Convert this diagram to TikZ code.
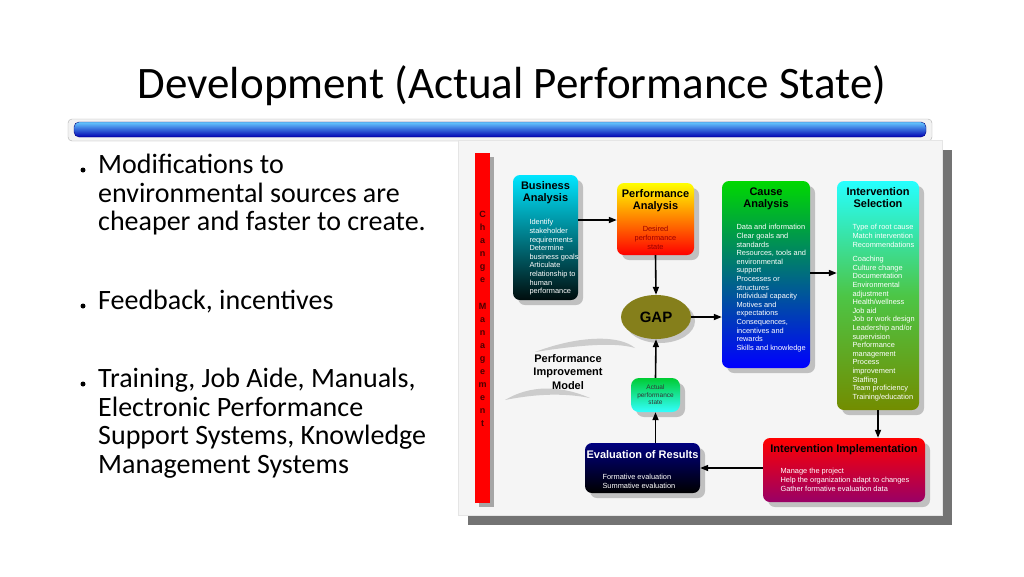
\documentclass[tikz,border=0pt]{standalone}
\usepackage{fontspec}
\setmainfont{Carlito}
\newfontfamily\arialf{Liberation Sans}
\usetikzlibrary{arrows.meta,shadows,shapes.geometric}
\begin{document}
\begin{tikzpicture}[x=1pt,y=-1pt,
  box/.style={rounded corners=7pt,inner sep=0pt,drop shadow={shadow xshift=5pt,shadow yshift=-5pt,fill=black!45}},
  ttl/.style={font=\arialf\bfseries\fontsize{11}{12.5}\selectfont,align=center},
  bod/.style={font=\arialf\fontsize{7.4}{8.6}\selectfont,align=left,white},
  arr/.style={-{Triangle[length=8pt,width=6pt]},line width=1.6pt},
  bul/.style={font=\fontsize{28}{28.5}\selectfont,align=left,anchor=north west,inner sep=0pt}]
\useasboundingbox (0,0) rectangle (1024,576);
\fill[white] (0,0) rectangle (1024,576);
\node (title) at (512,86) {\fontsize{45}{48}\selectfont Development (Actual Performance State)};
\node[draw=gray!60,fill=gray!10,rounded corners=4pt,minimum width=864pt,minimum height=22pt] (barout) at (500,130) {};
\shade[top color=blue!35!cyan!60,bottom color=blue!70!black,rounded corners=5pt,draw=blue!50!black] (74,122) rectangle (926,137);
% bullets
\node[bul] (b1) at (98,154) {Modifications to\\environmental sources are\\cheaper and faster to create.};
\node[bul] (b2) at (98,290) {Feedback, incentives};
\node[bul] (b3) at (98,368) {Training, Job Aide, Manuals,\\Electronic Performance\\Support Systems, Knowledge\\Management Systems};
\foreach \y in {170,306,384} \fill (83,\y) circle (2.5pt);
% panel
\fill[black!55] (468,150) rectangle (952,525);
\fill[gray!8] (458,140) rectangle (942,515);
\draw[gray!20] (458,140) rectangle (942,515);
% change management bar
\fill[black!35] (479,157) rectangle (494,507);
\fill[red] (475,153) rectangle (490,503);
\node[font=\arialf\bfseries\fontsize{9}{13}\selectfont,align=center,text=black!70!red,anchor=north] (cm) at (482.5,208) {C\\h\\a\\n\\g\\e\\[14pt]M\\a\\n\\a\\g\\e\\m\\e\\n\\t};
% boxes
\node[box,top color=cyan!90!blue,bottom color=black!90!teal,minimum width=65pt,minimum height=125pt] (ba) at (545.5,237.5) {};
\node[ttl,anchor=north] at (ba.north) [yshift=-3pt] {Business\\Analysis};
\node[bod,anchor=north west] at (526,216) {Identify\\stakeholder\\requirements\\Determine\\business goals\\Articulate\\relationship to\\human\\performance};
\node[box,top color=yellow,bottom color=red,minimum width=77pt,minimum height=72pt] (pa) at (655.5,219) {};
\node[ttl,anchor=north] at (pa.north) [yshift=-3pt] {Performance\\Analysis};
\node[bod,align=center,text=red!60!black,anchor=north] at (655.5,223) {Desired\\performance\\state};
\node[box,top color=green!85!black,bottom color=blue,minimum width=88pt,minimum height=187pt] (ca) at (766,274.5) {};
\node[ttl,anchor=north] at (ca.north) [yshift=-3pt] {Cause\\Analysis};
\node[bod,anchor=north west] at (733,221) {Data and information\\Clear goals and\\standards\\Resources, tools and\\environmental\\support\\Processes or\\structures\\Individual capacity\\Motives and\\expectations\\Consequences,\\incentives and\\rewards\\Skills and knowledge};
\node[box,top color=cyan!85!white,bottom color=olive!90!green,minimum width=82pt,minimum height=229pt] (is) at (878,295.5) {};
\node[ttl,anchor=north] at (is.north) [yshift=-3pt] {Intervention\\Selection};
\node[bod,anchor=north west] at (849,221) {Type of root cause\\Match intervention\\Recommendations\\[6pt]Coaching\\Culture change\\Documentation\\Environmental\\adjustment\\Health/wellness\\Job aid\\Job or work design\\Leadership and/or\\supervision\\Performance\\management\\Process\\improvement\\Staffing\\Team proficiency\\Training/education};
\node[ellipse,fill=olive!85!yellow!80!black,minimum width=70pt,minimum height=44pt,drop shadow={shadow xshift=4pt,shadow yshift=-4pt,fill=black!40},font=\arialf\bfseries\fontsize{15}{16}\selectfont,inner sep=0pt] (gap) at (656,317) {GAP};
\node[box,rounded corners=8pt,top color=green!60!teal,bottom color=cyan!80,minimum width=49pt,minimum height=34pt,bod,align=center,text=black!80,font=\arialf\fontsize{6.5}{7.5}\selectfont] (aps) at (655.5,395) {Actual\\performance\\state};
\node[box,top color=blue!50!black,bottom color=black,minimum width=115pt,minimum height=50pt] (ev) at (642.5,468) {};
\node[ttl,white,anchor=north] at (ev.north) [yshift=-4pt] {Evaluation of Results};
\node[bod,anchor=north west] at (599,471) {Formative evaluation\\Summative evaluation};
\node[box,top color=red,bottom color=violet!80!red,minimum width=162pt,minimum height=64pt] (ii) at (844,470) {};
\node[ttl,anchor=north] at (ii.north) [yshift=-3pt] {Intervention Implementation};
\node[bod,anchor=north west] at (777,465) {Manage the project\\Help the organization adapt to changes\\Gather formative evaluation data};
% PIM
\fill[gray!40] (535,352) .. controls (580,335) and (620,335) .. (635,348) .. controls (615,342) and (580,345) .. (535,352);
\fill[gray!40] (505,400) .. controls (530,385) and (560,385) .. (590,398) .. controls (560,392) and (530,395) .. (505,400);
\node[font=\arialf\bfseries\fontsize{11}{13.5}\selectfont,align=center] (pim) at (568,372) {Performance\\Improvement\\Model};
% arrows
\draw[arr] (ba.east|-0,220) -- (pa.west|-0,220);
\draw[arr] (pa.south) -- (gap.north);
\draw[arr] (gap.east) -- (ca.west|-gap.east);
\draw[arr] (ca.east|-0,273) -- (is.west|-0,273);
\draw[arr] (is.south) -- (ii.north-|is.south);
\draw[arr] (ii.west|-0,468) -- (ev.east|-0,468);
\draw[arr] (ev.north-|aps.south) -- (aps.south);
\draw[arr] (aps.north) -- (gap.south);
\end{tikzpicture}
\end{document}
